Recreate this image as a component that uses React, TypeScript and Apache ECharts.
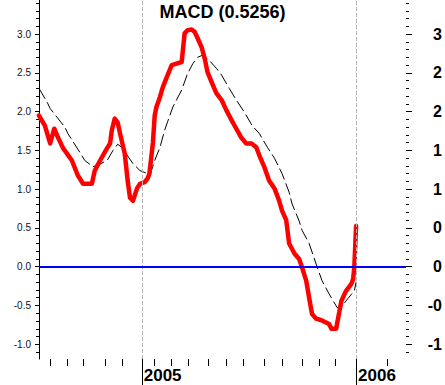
import React, { useEffect, useRef } from "react";
import * as echarts from "echarts";

// Days measured from 1 Jan 2005
const macdDays = [-175,-165,-156,-149,-144,-134,-119,-109,-100,-85,-80,-71,-59,-54,-51,-46,-41,-37,-29,-24,-20,-15,-8,-3,5,10,13,19,22,25,31,36,44,51,59,68,70,73,78,85,90,95,102,107,112,119,127,136,144,153,161,170,178,187,195,200,209,217,226,234,239,246,251,260,268,273,280,285,290,297,306,319,323,331,340,348,357,360,362,365];
const macdValues = [1.95,1.82,1.59,1.78,1.69,1.53,1.37,1.18,1.07,1.07,1.24,1.37,1.53,1.59,1.76,1.91,1.86,1.72,1.46,1.11,0.89,0.85,1.01,1.07,1.09,1.14,1.2,1.6,1.95,2.06,2.19,2.32,2.47,2.6,2.62,2.64,2.79,3.01,3.05,3.06,3.03,2.95,2.83,2.69,2.51,2.38,2.24,2.15,2.02,1.89,1.78,1.66,1.59,1.59,1.54,1.44,1.28,1.11,1.01,0.85,0.72,0.6,0.3,0.17,0.1,-0.01,-0.18,-0.4,-0.61,-0.67,-0.69,-0.74,-0.8,-0.8,-0.44,-0.31,-0.22,-0.16,0,0.5256];

const signalDays = [-175,-161,-156,-131,-126,-105,-97,-83,-75,-59,-49,-41,-34,-15,-3,10,14,22,31,39,44,53,68,78,87,95,104,115,127,136,149,161,175,188,200,214,226,239,251,256,268,273,285,299,307,319,333,345,351,362,365];
const signalValues = [2.3,2.12,2.04,1.8,1.72,1.47,1.37,1.29,1.31,1.37,1.5,1.58,1.54,1.33,1.24,1.2,1.18,1.37,1.54,1.76,1.87,2.06,2.28,2.49,2.62,2.7,2.73,2.66,2.56,2.47,2.3,2.15,1.99,1.82,1.72,1.54,1.4,1.2,0.96,0.81,0.59,0.47,0.3,-0.01,-0.18,-0.35,-0.53,-0.47,-0.41,-0.31,-0.2];

const leftTickValues = [-1, -0.5, 0, 0.5, 1, 1.5, 2, 2.5, 3];
const leftTickLabels = ["-1.0", "-0.5", "0.0", "0.5", "1.0", "1.5", "2.0", "2.5", "3.0"];
const rightTickLabels = ["-1", "-0", "0", "0", "1", "1", "2", "2", "3"];
const minorTickValues: number[] = [];
for (let i = -11; i <= 34; i++) minorTickValues.push(i / 10);

const monthTickDays = [-156, -127, -100, -63, -34, 22, 51, 80, 114, 144, 173, 209, 239, 273, 302, 329, 418];
const yearTickDays = [0, 365];
const yearLabels = ["2005", "2006"];

const X_MIN = -175;
const X_MAX = 450;
const Y_MIN = -1.19;
const Y_MAX = 3.44;

const FONT = "'Liberation Sans', Arial, sans-serif";

function findLabel(values: number[], labels: string[], v: number) {
  const i = values.findIndex((x) => Math.abs(x - v) < 1e-6);
  return i >= 0 ? labels[i] : "";
}

export default function App() {
  const ref = useRef<HTMLDivElement>(null);
  useEffect(() => {
    if (!ref.current) return;
    const chart = echarts.init(ref.current, undefined, { renderer: "svg" });
    const macdData = macdDays.map((d, i) => [d, macdValues[i]]);
    const signalData = signalDays.map((d, i) => [d, signalValues[i]]);
    const last = macdValues[macdValues.length - 1];
    const baseY = {
      type: "value" as const,
      min: Y_MIN,
      max: Y_MAX,
      splitLine: { show: false },
    };
    const baseX = {
      type: "value" as const,
      min: X_MIN,
      max: X_MAX,
      splitLine: { show: false },
      axisLine: { show: false, onZero: false },
    };
    chart.setOption({
      animation: false,
      backgroundColor: "#ffffff",
      title: {
        text: `MACD (${last.toFixed(4)})`,
        left: "center",
        top: 3,
        padding: 0,
        textStyle: { fontSize: 18, fontWeight: "bold", fontFamily: FONT, color: "#000" },
      },
      grid: { left: 39, right: 38, top: 0, bottom: 26 },
      xAxis: [
        {
          ...baseX,
          position: "bottom",
          axisTick: { show: true, length: 7, customValues: monthTickDays, lineStyle: { color: "#000", width: 1 } },
          axisLabel: { show: false },
        },
        {
          ...baseX,
          position: "bottom",
          axisTick: { show: true, length: 26, customValues: yearTickDays, lineStyle: { color: "#000", width: 1 } },
          axisLabel: {
            show: true,
            customValues: yearTickDays,
            formatter: (v: number) => findLabel(yearTickDays, yearLabels, v),
            align: "left",
            margin: 8,
            padding: [0, 0, 0, 2],
            fontSize: 17,
            fontWeight: "bold",
            fontFamily: FONT,
            color: "#000",
          },
        },
      ],
      yAxis: [
        {
          ...baseY,
          position: "left",
          axisLine: { show: true, onZero: false, lineStyle: { color: "#000", width: 1 } },
          axisTick: { show: true, length: 4, customValues: leftTickValues, lineStyle: { color: "#000" } },
          axisLabel: {
            show: true,
            customValues: leftTickValues,
            formatter: (v: number) => findLabel(leftTickValues, leftTickLabels, v),
            margin: 8,
            fontSize: 10,
            fontFamily: FONT,
            color: "#111",
          },
        },
        {
          ...baseY,
          position: "left",
          axisLine: { show: false, onZero: false },
          axisTick: { show: true, length: 3, customValues: minorTickValues, lineStyle: { color: "#000" } },
          axisLabel: { show: false },
        },
        {
          ...baseY,
          position: "right",
          axisLine: { show: false, onZero: false },
          axisTick: { show: true, length: 6, customValues: leftTickValues, lineStyle: { color: "#000" } },
          axisLabel: {
            show: true,
            customValues: leftTickValues,
            formatter: (v: number) => findLabel(leftTickValues, rightTickLabels, v),
            align: "right",
            margin: 36,
            fontSize: 16,
            fontWeight: "bold",
            fontFamily: FONT,
            color: "#000",
          },
        },
        {
          ...baseY,
          position: "right",
          axisLine: { show: false, onZero: false },
          axisTick: { show: true, length: 3, customValues: minorTickValues, lineStyle: { color: "#000" } },
          axisLabel: { show: false },
        },
      ],
      series: [
        {
          name: "Signal",
          type: "line",
          xAxisIndex: 0,
          yAxisIndex: 0,
          data: signalData,
          showSymbol: false,
          z: 2,
          lineStyle: { color: "#000", width: 1, type: [12, 4] },
          markLine: {
            silent: true,
            symbol: "none",
            label: { show: false },
            animation: false,
            data: [
              { xAxis: 0, lineStyle: { color: "#b4b4b4", width: 1, type: [4, 2] } },
              { xAxis: 365, lineStyle: { color: "#b4b4b4", width: 1, type: [4, 2] } },
              { yAxis: 0, lineStyle: { color: "#0000ff", width: 2, type: "solid" } },
            ],
          },
        },
        {
          name: "MACD",
          type: "line",
          xAxisIndex: 0,
          yAxisIndex: 0,
          data: macdData,
          showSymbol: false,
          z: 3,
          lineStyle: { color: "#ff0000", width: 4.5, join: "round", cap: "round" },
        },
      ],
    });
    return () => chart.dispose();
  }, []);
  return (
    <div
      ref={ref}
      style={{ position: "fixed", left: 0, top: 0, width: 445, height: 385, background: "#fff" }}
    />
  );
}
